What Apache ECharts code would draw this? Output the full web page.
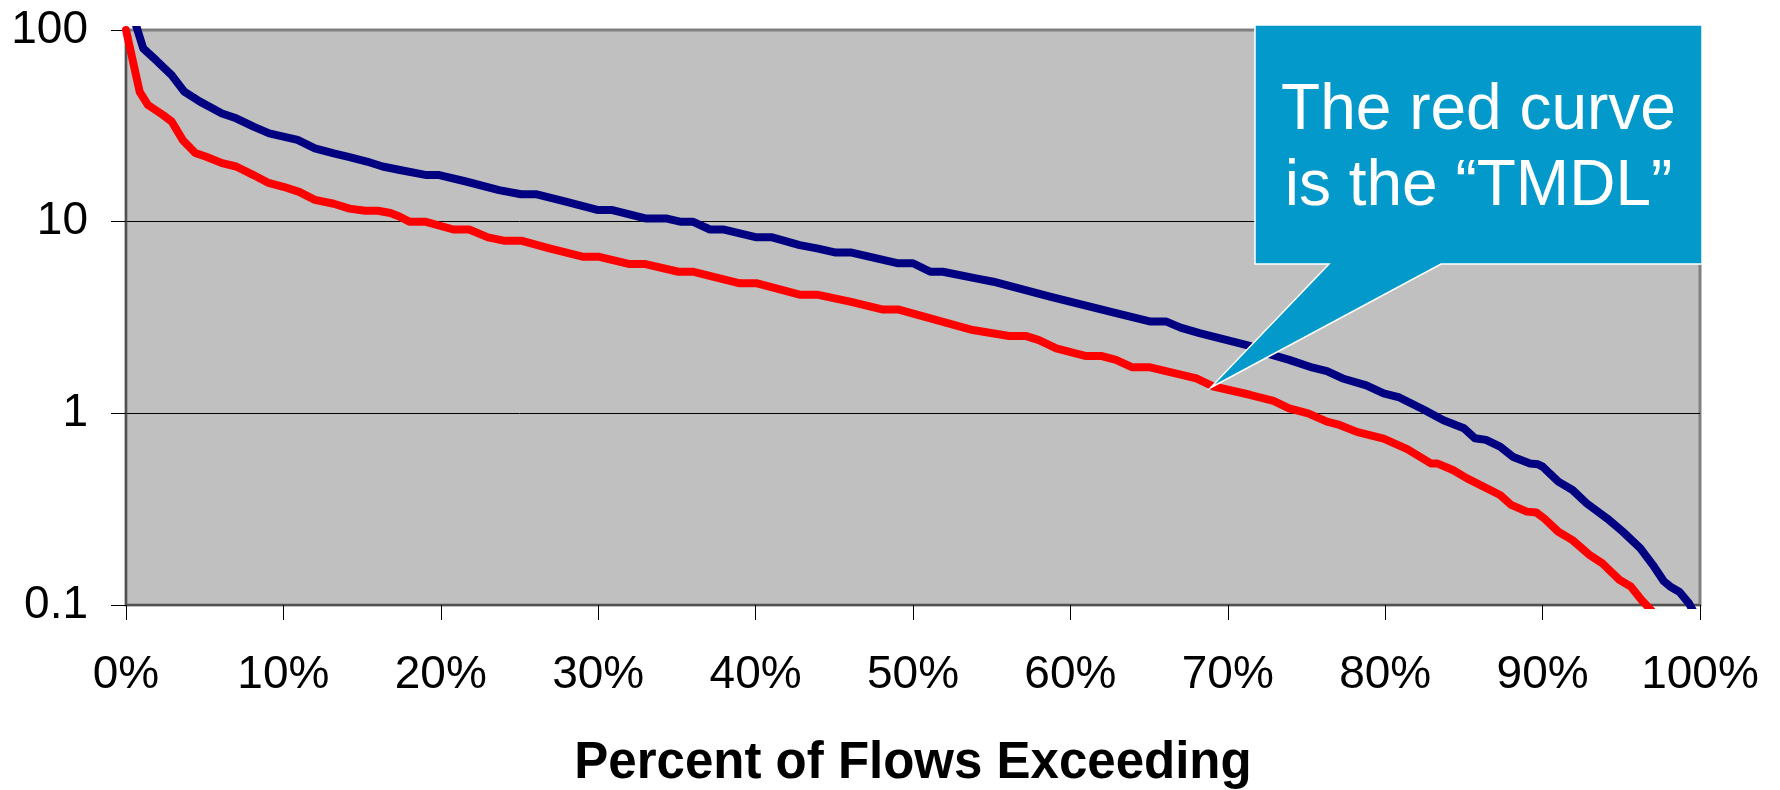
<!DOCTYPE html>
<html>
<head>
<meta charset="utf-8">
<script src="https://cdn.jsdelivr.net/npm/echarts@6/dist/echarts.min.js"></script>
<style>
  html, body { margin: 0; padding: 0; background: #ffffff; }
  #chart { width: 1780px; height: 790px; }
</style>
</head>
<body>
<div id="chart"></div>
<script>
// Observed load duration curve (navy): percent of flows exceeding vs. load
const flowPct = [0.5, 1.1, 1.9, 2.9, 3.7, 4.7, 6.1, 7.0, 8.1, 9.1, 10.0, 10.9, 12.0, 13.2, 14.2, 15.3, 16.3, 17.4,
  19.1, 19.9, 21.6, 23.7, 25.1, 26.1, 28.0, 30.0, 30.9, 33.0, 34.3, 35.2, 36.0, 37.1, 38.0, 40.0, 41.0, 42.8, 43.9,
  45.1, 46.1, 49.0, 50.0, 51.1, 51.9, 54.0, 55.1, 58.7, 62.9, 65.1, 66.1, 67.0, 68.2, 71.4, 72.7, 73.9, 75.4, 76.3,
  77.3, 78.8, 79.9, 80.9, 82.4, 83.7, 85.0, 85.7, 86.4, 87.3, 88.1, 89.2, 89.7, 90.0, 91.0, 91.9, 92.8, 94.1, 95.1,
  96.2, 97.0, 97.7, 98.1, 98.7, 99.3, 99.6];
const flowLoad = [115, 80, 69.7, 58.2, 47.7, 42.3, 36.7, 34.6, 31.3, 28.9, 27.8, 26.7, 24.1, 22.7, 21.7, 20.6, 19.4, 18.6,
  17.5, 17.5, 16.2, 14.6, 13.9, 13.9, 12.7, 11.5, 11.5, 10.4, 10.4, 10.0, 10.0, 9.1, 9.1, 8.3, 8.3, 7.55, 7.26,
  6.9, 6.9, 6.07, 6.07, 5.48, 5.48, 5.06, 4.86, 4.06, 3.33, 3.01, 3.01, 2.8, 2.62, 2.25, 2.03, 1.9, 1.73, 1.66,
  1.52, 1.4, 1.27, 1.21, 1.05, 0.92, 0.835, 0.742, 0.727, 0.67, 0.594, 0.548, 0.543, 0.527, 0.44, 0.398, 0.339, 0.283, 0.241,
  0.198, 0.162, 0.133, 0.125, 0.117, 0.102, 0.092];

// TMDL curve (red)
const tmdlPct = [0, 0.87, 1.4, 2.35, 2.9, 3.6, 4.4, 5.1, 6.1, 7.0, 8.1, 9.0, 10.0, 11.0, 12.0, 13.2, 14.2, 15.2, 16.0,
  16.8, 17.4, 18.0, 19.0, 20.8, 21.8, 23.0, 24.0, 25.1, 26.9, 29.0, 30.0, 32.0, 33.0, 35.1, 36.0, 39.0, 40.1, 42.8,
  43.9, 46.0, 48.1, 49.1, 53.8, 56.1, 57.2, 58.0, 59.1, 61.0, 62.0, 62.9, 63.9, 65.0, 68.0, 69.1, 71.4, 72.9, 73.9,
  75.1, 76.3, 77.1, 78.2, 79.9, 81.4, 82.9, 83.3, 84.3, 85.2, 87.3, 88.0, 89.0, 89.6, 90.1, 91.0, 91.9, 93.0, 93.8,
  94.9, 95.6, 96.3, 96.9];
const tmdlLoad = [100, 47.6, 40.6, 36, 33.3, 26.7, 22.8, 21.8, 20.2, 19.4, 17.5, 16, 15.2, 14.3, 13.0, 12.4, 11.7, 11.4, 11.4,
  11.1, 10.6, 10.0, 10.0, 9.1, 9.1, 8.28, 7.96, 7.96, 7.26, 6.57, 6.57, 6.01, 6.01, 5.48, 5.48, 4.77, 4.77, 4.16,
  4.16, 3.83, 3.48, 3.48, 2.72, 2.53, 2.53, 2.41, 2.18, 1.99, 1.99, 1.9, 1.74, 1.74, 1.52, 1.38, 1.25, 1.16, 1.06,
  1.0, 0.905, 0.87, 0.8, 0.738, 0.65, 0.548, 0.548, 0.506, 0.458, 0.375, 0.333, 0.307, 0.304, 0.283, 0.241, 0.218, 0.182, 0.165,
  0.135, 0.125, 0.106, 0.094];

// Axis ticks
const xTickStep = 10;
const yTicks = [0.1, 1, 10, 100];

// Callout
const calloutLines = ['The red curve', 'is the \u201cTMDL\u201d'];
const calloutPoint = [68.9, 1.36];

const pairs = (xs, ys) => xs.map((x, i) => [x, ys[i]]);
const FONT = 'Arial, "Liberation Sans", Helvetica, sans-serif';

const chart = echarts.init(document.getElementById('chart'), null, { renderer: 'canvas' });

const option = {
  animation: false,
  backgroundColor: '#ffffff',
  grid: {
    left: 126, right: 80, top: 30, bottom: 185,
    containLabel: false,
    outerBoundsMode: 'none',
    show: true,
    backgroundColor: '#C0C0C0',
    borderColor: '#808080',
    borderWidth: 3
  },
  xAxis: {
    type: 'value',
    min: 0, max: 100, interval: xTickStep,
    name: 'Percent of Flows Exceeding',
    nameLocation: 'middle',
    nameGap: 133,
    nameTextStyle: { fontFamily: FONT, fontSize: 51, fontWeight: 'bold', color: '#000' },
    axisLine: { show: true, lineStyle: { color: '#505050', width: 2 } },
    axisTick: { show: true, inside: false, length: 15, lineStyle: { color: '#000', width: 1 } },
    axisLabel: {
      margin: 47, fontFamily: FONT, fontSize: 46, color: '#000',
      formatter: v => v + '%'
    },
    splitLine: { show: false }
  },
  yAxis: {
    type: 'log',
    logBase: 10,
    min: yTicks[0], max: yTicks[yTicks.length - 1],
    axisLine: { show: true, onZero: false, lineStyle: { color: '#505050', width: 2 } },
    axisTick: { show: true, inside: false, length: 15, lineStyle: { color: '#000', width: 1 } },
    axisLabel: {
      margin: 38, fontFamily: FONT, fontSize: 46, color: '#000',
      formatter: v => {
        const t = yTicks.find(k => Math.abs(k - v) / k < 1e-6);
        return t === undefined ? '' : String(t);
      }
    },
    splitLine: { show: true, lineStyle: { color: ['#808080', '#000', '#000', '#808080'], width: 1 } }
  },
  series: [
    {
      name: 'Observed',
      type: 'line',
      data: pairs(flowPct, flowLoad),
      showSymbol: false,
      smooth: false,
      clip: true,
      lineStyle: { color: '#000080', width: 8, join: 'round', cap: 'round' },
      itemStyle: { color: '#000080' }
    },
    {
      name: 'TMDL',
      type: 'line',
      data: pairs(tmdlPct, tmdlLoad),
      showSymbol: false,
      smooth: false,
      clip: true,
      lineStyle: { color: '#FF0000', width: 8, join: 'round', cap: 'round' },
      itemStyle: { color: '#FF0000' }
    }
  ]
};

chart.setOption(option);

// Speech-bubble callout whose pointer ends on the red curve
const tip = chart.convertToPixel({ xAxisIndex: 0, yAxisIndex: 0 }, calloutPoint);
const box = { x0: 1255, y0: 25, x1: 1702, y1: 264, baseL: 1329, baseR: 1441 };
const cx = (box.x0 + box.x1) / 2;

chart.setOption({
  graphic: [
    {
      type: 'polygon',
      z: 100,
      shape: {
        points: [
          [box.x0, box.y0], [box.x1, box.y0], [box.x1, box.y1], [box.baseR, box.y1],
          tip, [box.baseL, box.y1], [box.x0, box.y1]
        ]
      },
      style: { fill: '#0399CB', stroke: '#FFFFFF', lineWidth: 1.5, lineJoin: 'miter' }
    },
    {
      type: 'text', z: 101, x: cx, y: 111,
      style: { text: calloutLines[0], font: '64px ' + FONT, fill: '#FFFFFF', align: 'center', verticalAlign: 'middle' }
    },
    {
      type: 'text', z: 101, x: cx, y: 187,
      style: { text: calloutLines[1], font: '64px ' + FONT, fill: '#FFFFFF', align: 'center', verticalAlign: 'middle' }
    }
  ]
});
</script>
</body>
</html>
